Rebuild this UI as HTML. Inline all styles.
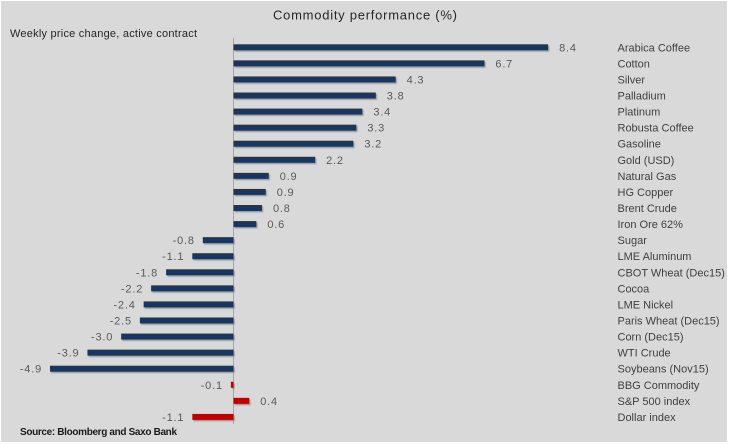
<!DOCTYPE html>
<html><head><meta charset="utf-8"><style>
html,body{margin:0;padding:0;background:#fff;}
svg{display:block;}
text{font-family:"Liberation Sans","DejaVu Sans",sans-serif;}
</style></head><body>
<svg width="730" height="445" viewBox="0 0 730 445" xmlns="http://www.w3.org/2000/svg">
<defs>
<filter id="sh" x="-5%" y="-50%" width="110%" height="200%"><feGaussianBlur stdDeviation="0.6"/></filter>
</defs>
<rect x="0" y="0" width="730" height="445" fill="#ffffff"/>
<rect x="1" y="1" width="726" height="441" fill="#d9d9d9"/>
<text x="365" y="19.5" font-size="13" fill="#262626" text-anchor="middle" textLength="184" lengthAdjust="spacing">Commodity  performance  (%)</text>
<text x="10" y="37" font-size="11" fill="#262626" textLength="187" lengthAdjust="spacing">Weekly price change, active contract</text>
<text x="20" y="435" font-size="10" fill="#1a1a1a" font-weight="bold" textLength="157" lengthAdjust="spacing">Source: Bloomberg and Saxo Bank</text>
<line x1="233.5" y1="38" x2="233.5" y2="424" stroke="#a6a6a6" stroke-width="1"/>
<g id="bars"></g>
<g font-size="11" fill="#595959">
</g>
<script>
(function(){
var rows=[
["Arabica Coffee","8.4",8.4,0],["Cotton","6.7",6.7,0],["Silver","4.3",4.33,0],["Palladium","3.8",3.8,0],
["Platinum","3.4",3.44,0],["Robusta Coffee","3.3",3.28,0],["Gasoline","3.2",3.2,0],["Gold (USD)","2.2",2.18,0],
["Natural Gas","0.9",0.94,0],["HG Copper","0.9",0.86,0],["Brent Crude","0.8",0.76,0],["Iron Ore 62%","0.6",0.61,0],
["Sugar","-0.8",-0.82,0],["LME Aluminum","-1.1",-1.1,0],["CBOT Wheat (Dec15)","-1.8",-1.8,0],["Cocoa","-2.2",-2.2,0],
["LME Nickel","-2.4",-2.4,0],["Paris Wheat (Dec15)","-2.5",-2.5,0],["Corn (Dec15)","-3.0",-3.0,0],["WTI Crude","-3.9",-3.9,0],
["Soybeans (Nov15)","-4.9",-4.9,0],["BBG Commodity","-0.1",-0.07,1],["S&P 500 index","0.4",0.42,1],["Dollar index","-1.1",-1.1,1]];
var ns="http://www.w3.org/2000/svg";var svg=document.querySelector("svg");
var x0=233.5,k=37.45;
function el(n,a,t){var e=document.createElementNS(ns,n);for(var key in a)e.setAttribute(key,a[key]);if(t!==undefined)e.textContent=t;svg.appendChild(e);return e;}
rows.forEach(function(r,i){
var cy=47.3+16.07*i;var w=Math.abs(r[2])*k;var x=r[2]>=0?x0:x0-w;
var col=r[3]?"#c00000":"#1b365d";
el("rect",{x:x+1.2,y:cy-3+1.4,width:w,height:6,fill:"#7f7f7f","fill-opacity":"0.7",filter:"url(#sh)"});
el("rect",{x:x,y:cy-3,width:w,height:6,fill:col});
if(r[2]>=0){el("text",{x:x0+w+11,y:cy+4,"font-size":"11",fill:"#595959","letter-spacing":"0.8"},r[1]);}
else{el("text",{x:x-8,y:cy+4,"font-size":"11",fill:"#595959","text-anchor":"end","letter-spacing":"0.8"},r[1]);}
el("text",{x:617.5,y:cy+4,"font-size":"11",fill:"#404040"},r[0]);
});
})();
</script>
</svg>
</body></html>
